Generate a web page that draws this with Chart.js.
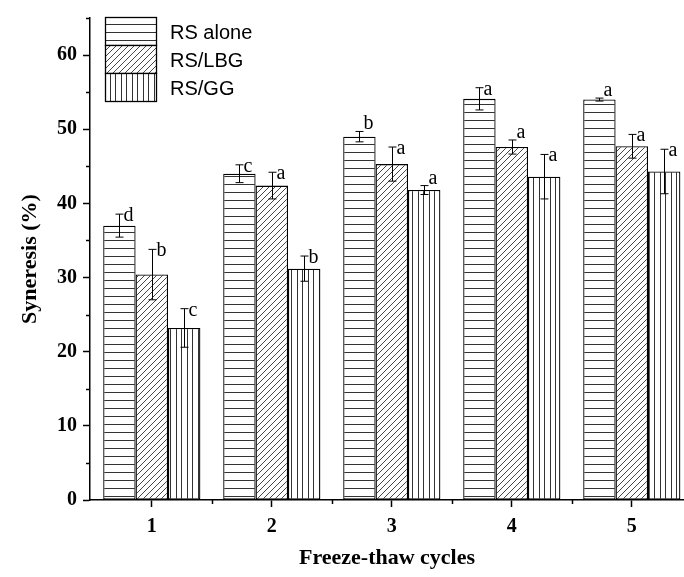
<!DOCTYPE html>
<html>
<head>
<meta charset="utf-8">
<script src="https://cdn.jsdelivr.net/npm/chart.js@4.4.0/dist/chart.umd.min.js"></script>
<style>
  html, body { margin: 0; padding: 0; background: #fff; }
  #wrap { width: 684px; height: 577px; }
</style>
</head>
<body>
<div id="wrap"><canvas id="chart" width="684" height="577"></canvas></div>
<script>
// valeurs
const CYCLES = [1, 2, 3, 4, 5];
const SERIES = ["RS alone", "RS/LBG", "RS/GG"];
const RS_ALONE = [37.0, 44.0, 49.0, 54.1, 54.0];
const RS_LBG = [30.4, 42.4, 45.3, 47.6, 47.7];
const RS_GG = [23.2, 31.2, 41.8, 43.6, 44.3];
const RS_ALONE_SD = [1.55, 1.2, 0.7, 1.5, 0.2];
const RS_LBG_SD = [3.4, 1.8, 2.3, 0.95, 1.6];
const RS_GG_SD = [2.6, 1.7, 0.6, 3.0, 3.0];
const RS_ALONE_LETTERS = ["d", "c", "b", "a", "a"];
const RS_LBG_LETTERS = ["b", "a", "a", "a", "a"];
const RS_GG_LETTERS = ["c", "b", "a", "a", "a"];
const Y_MINOR = [5, 15, 25, 35, 45, 55, 65];
const X_MINOR = [1.5, 2.5, 3.5, 4.5];

const SERIF = "'Liberation Serif', 'Times New Roman', serif";

// motifs de hachures
function makePattern(kind) {
  const c = document.createElement('canvas');
  const ctx = c.getContext('2d');
  if (kind === 'h') {
    c.width = 8; c.height = 8;
    ctx.fillStyle = '#fff'; ctx.fillRect(0, 0, 8, 8);
    ctx.fillStyle = '#333'; ctx.fillRect(0, 0, 8, 1);
  } else if (kind === 'v') {
    c.width = 11; c.height = 11;
    ctx.fillStyle = '#fff'; ctx.fillRect(0, 0, 11, 11);
    ctx.fillStyle = '#333'; ctx.fillRect(0, 0, 1, 11); ctx.fillRect(5, 0, 1, 11);
  } else {
    c.width = 6; c.height = 6;
    ctx.fillStyle = '#fff'; ctx.fillRect(0, 0, 6, 6);
    ctx.strokeStyle = '#333'; ctx.lineWidth = 0.9;
    ctx.beginPath();
    ctx.moveTo(-1, 7); ctx.lineTo(7, -1);
    ctx.moveTo(-1, 1); ctx.lineTo(1, -1);
    ctx.moveTo(5, 7); ctx.lineTo(7, 5);
    ctx.stroke();
  }
  return ctx.createPattern(c, 'repeat');
}

const toPoints = vals => CYCLES.map((c, i) => ({ x: c, y: vals[i] }));

const datasets = [
  { label: SERIES[0], data: toPoints(RS_ALONE), backgroundColor: makePattern('h'), sd: RS_ALONE_SD, letters: RS_ALONE_LETTERS },
  { label: SERIES[1], data: toPoints(RS_LBG), backgroundColor: makePattern('d'), sd: RS_LBG_SD, letters: RS_LBG_LETTERS },
  { label: SERIES[2], data: toPoints(RS_GG), backgroundColor: makePattern('v'), sd: RS_GG_SD, letters: RS_GG_LETTERS }
];

// barres d'erreur + lettres
const errorBars = {
  id: 'errorBars',
  afterDatasetsDraw(chart) {
    const ctx = chart.ctx, y = chart.scales.y;
    ctx.save();
    ctx.strokeStyle = '#000'; ctx.lineWidth = 1;
    ctx.fillStyle = '#000';
    ctx.font = '20px ' + SERIF;
    ctx.textBaseline = 'alphabetic'; ctx.textAlign = 'left';
    chart.data.datasets.forEach((ds, di) => {
      chart.getDatasetMeta(di).data.forEach((bar, i) => {
        const v = ds.data[i].y, sd = ds.sd[i];
        const x = Math.round(bar.x) + 0.5;
        const top = y.getPixelForValue(v + sd), bot = y.getPixelForValue(v - sd);
        ctx.beginPath();
        ctx.moveTo(x, top); ctx.lineTo(x, bot);
        ctx.moveTo(x - 4, top); ctx.lineTo(x + 4, top);
        ctx.moveTo(x - 4, bot); ctx.lineTo(x + 4, bot);
        ctx.stroke();
        const base = sd < 1 ? top - 2 : top + 7;
        ctx.fillText(ds.letters[i], x + 4, base);
      });
    });
    ctx.restore();
  }
};

// petites graduations
const minorTicks = {
  id: 'minorTicks',
  afterDraw(chart) {
    const ctx = chart.ctx, { x, y } = chart.scales;
    ctx.save();
    ctx.strokeStyle = '#000'; ctx.lineWidth = 1.5;
    ctx.beginPath();
    Y_MINOR.forEach(v => {
      const py = Math.round(y.getPixelForValue(v)) + 0.5;
      ctx.moveTo(y.right - 4, py); ctx.lineTo(y.right, py);
    });
    X_MINOR.forEach(v => {
      const px = Math.round(x.getPixelForValue(v)) + 0.5;
      ctx.moveTo(px, x.top); ctx.lineTo(px, x.top + 4);
    });
    ctx.stroke();
    ctx.restore();
  }
};

// légende dans la zone du graphique
const boxLegend = {
  id: 'boxLegend',
  afterDraw(chart) {
    const ctx = chart.ctx, area = chart.chartArea;
    const left = area.left + 15, top = 17, w = 51, h = 28;
    ctx.save();
    ctx.font = '20px "Liberation Sans", Arial, sans-serif';
    ctx.textBaseline = 'middle'; ctx.fillStyle = '#000';
    chart.data.datasets.forEach((ds, i) => {
      const by = top + i * h;
      ctx.fillStyle = ds.backgroundColor;
      ctx.fillRect(left, by, w, h);
      ctx.strokeStyle = '#000'; ctx.lineWidth = 1.3;
      ctx.strokeRect(left + 0.5, by + 0.5, w, h);
      ctx.fillStyle = '#000';
      ctx.fillText(ds.label, left + w + 14, by + h / 2 + 2);
    });
    ctx.restore();
  }
};

new Chart(document.getElementById('chart'), {
  type: 'bar',
  data: { datasets },
  plugins: [errorBars, minorTicks, boxLegend],
  options: {
    responsive: false,
    animation: false,
    layout: { padding: { top: 12, right: 0, bottom: 0, left: 0 } },
    plugins: { legend: { display: false }, tooltip: { enabled: false } },
    datasets: {
      bar: { categoryPercentage: 0.81, barPercentage: 1, borderColor: '#000', borderWidth: 1.3, borderSkipped: false }
    },
    scales: {
      x: {
        type: 'linear', min: 0.485, max: 5.435, offset: false,
        afterBuildTicks: s => { s.ticks = CYCLES.map(v => ({ value: v })); },
        afterFit: s => { s.height = 77; },
        grid: { offset: false, drawOnChartArea: false, drawTicks: true, tickLength: 7, color: '#000', tickWidth: 1.5 },
        border: { color: '#000', width: 1.5 },
        ticks: { color: '#000', padding: 8, font: { family: SERIF, weight: 'bold', size: 20 } },
        title: { display: true, text: 'Freeze-thaw cycles', color: '#000', padding: { top: 0, bottom: 5 },
                 font: { family: SERIF, weight: 'bold', size: 22 } }
      },
      y: {
        min: 0, max: 65,
        afterFit: s => { s.width = 90; },
        grid: { drawOnChartArea: false, drawTicks: true, tickLength: 7, color: '#000', tickWidth: 1.5 },
        border: { color: '#000', width: 1.5 },
        ticks: { stepSize: 10, includeBounds: false, color: '#000', padding: 6,
                 font: { family: SERIF, weight: 'bold', size: 20 } },
        title: { display: true, text: 'Syneresis (%)', color: '#000', padding: { top: 17, bottom: 0 },
                 font: { family: SERIF, weight: 'bold', size: 22 } }
      }
    }
  }
});
</script>
</body>
</html>
